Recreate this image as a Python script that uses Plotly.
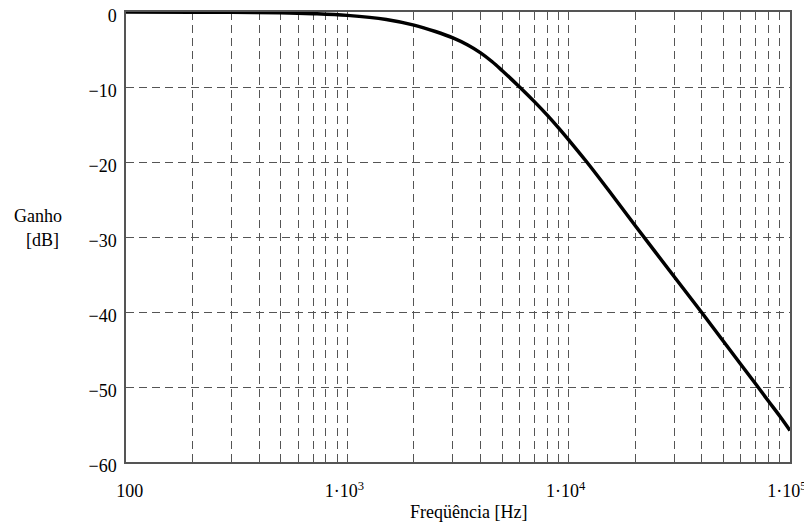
import plotly.graph_objects as go

# Data
freq_hz = [100, 200, 300, 500, 700, 1000, 1500, 2000, 2500, 3000, 3500, 4000, 4500,
           5000, 6000, 7000, 8000, 9000, 10000, 12000, 15000, 20000, 30000, 40000,
           50000, 60000, 70000, 80000, 90000, 100000]
gain_db = [0.0, -0.02, -0.04, -0.1, -0.22, -0.45, -1.0, -1.75, -2.6, -3.45, -4.4, -5.45, -6.6,
           -7.8, -10.0, -11.95, -13.75, -15.45, -17.05, -19.9, -23.6, -28.5, -35.3, -40.1,
           -43.9, -47.0, -49.6, -51.9, -53.9, -55.8]

x_grid_vals = [m * 10 ** e for e in (2, 3, 4) for m in range(1, 10)] + [100000]
x_grid_text = ["\u00a0\u00a0\u00a0100", "", "", "", "", "", "", "", "",
               "1·10<sup>3</sup>", "", "", "", "", "", "", "", "",
               "1·10<sup>4</sup>", "", "", "", "", "", "", "", "",
               "1·10<sup>5</sup>"]
y_tick_vals = [0, -10, -20, -30, -40, -50, -60]
y_tick_text = ["0", "−10", "−20", "−30", "−40", "−50", "−60"]

FONT = "Liberation Serif, Times New Roman, serif"

fig = go.Figure()
fig.add_trace(go.Scatter(
    x=freq_hz, y=gain_db, mode="lines",
    line=dict(color="black", width=3.5, shape="spline", smoothing=1.0),
    showlegend=False, hoverinfo="skip"))

# page has an 8px body margin; figure is sized to fit the 812x523 window
W, H = 804, 515
L, R, T, B = 118, 22, 4, 61
PW, PH = W - L - R, H - T - B


def px(xp):
    return (xp - 8 - L) / PW


def py(yp):
    return (H - B - (yp - 8)) / PH


fig.update_layout(
    width=W, height=H,
    margin=dict(l=L, r=R, t=T, b=B, pad=0, autoexpand=False),
    paper_bgcolor="white", plot_bgcolor="white",
    font=dict(family=FONT, size=18, color="black"),
    xaxis=dict(type="log", range=[2, 5], tickmode="array",
               tickvals=x_grid_vals, ticktext=x_grid_text,
               showgrid=True, gridcolor="#555", griddash="8px,5px", gridwidth=1,
               showline=True, linecolor="#555", linewidth=1.5, mirror=True,
               ticks="", ticklabelstandoff=12, ticklabelshift=-3,
               zeroline=False, automargin=False, ticklabeloverflow="allow",
               tickfont=dict(family=FONT, size=18)),
    yaxis=dict(range=[-60, 0], tickmode="array",
               tickvals=y_tick_vals, ticktext=y_tick_text,
               showgrid=True, gridcolor="#555", griddash="8px,5px", gridwidth=1,
               showline=True, linecolor="#555", linewidth=1.5, mirror=True,
               ticks="", ticklabelstandoff=4, ticklabelshift=4,
               zeroline=False, automargin=False, ticklabeloverflow="allow",
               tickfont=dict(family=FONT, size=18)),
)

fig.add_annotation(text="Freqüência [Hz]", xref="paper", yref="paper",
                   x=px(468.5), y=py(512), xanchor="center", yanchor="middle",
                   showarrow=False, font=dict(family=FONT, size=18))
fig.add_annotation(text="Ganho", xref="paper", yref="paper",
                   x=px(38), y=py(216), xanchor="center", yanchor="middle",
                   showarrow=False, font=dict(family=FONT, size=18))
fig.add_annotation(text="[dB]", xref="paper", yref="paper",
                   x=px(42), y=py(240), xanchor="center", yanchor="middle",
                   showarrow=False, font=dict(family=FONT, size=18))

fig.write_html("out.html")
